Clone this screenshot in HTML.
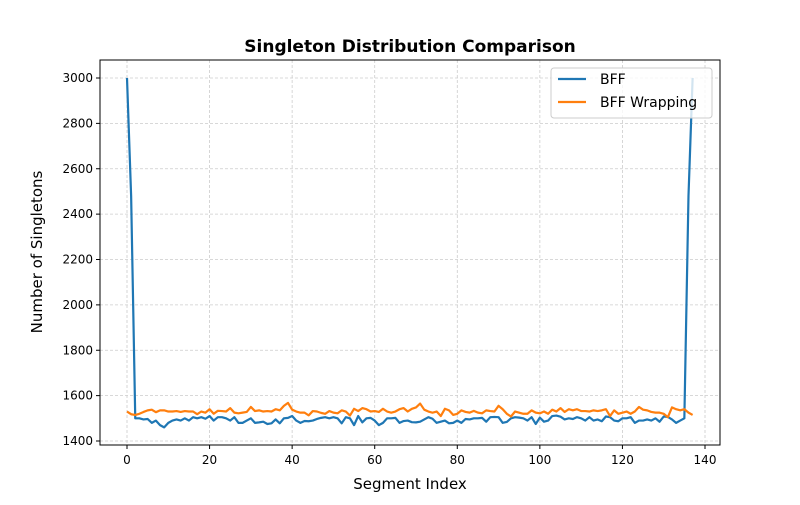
<!DOCTYPE html>
<html><head><meta charset="utf-8"><style>
body{margin:0;background:#fff;font-family:"Liberation Sans","DejaVu Sans",sans-serif}
svg text{font-family:"DejaVu Sans","Liberation Sans",sans-serif}
</style></head><body>
<svg id="c" width="800" height="500"></svg>
<script>
const bff=[3000,2480,1500,1500,1495,1497,1480,1490,1470,1460,1480,1490,1495,1490,1500,1490,1505,1500,1505,1498,1510,1490,1505,1505,1500,1490,1505,1480,1480,1490,1500,1480,1482,1485,1475,1478,1495,1478,1500,1502,1510,1490,1480,1488,1487,1490,1497,1502,1505,1500,1505,1500,1478,1505,1500,1470,1510,1482,1500,1502,1490,1470,1480,1500,1500,1502,1480,1488,1490,1483,1482,1485,1495,1505,1498,1480,1485,1490,1478,1480,1490,1480,1497,1495,1500,1500,1502,1485,1505,1506,1505,1480,1484,1500,1505,1503,1500,1490,1505,1475,1503,1485,1490,1510,1512,1507,1495,1500,1497,1505,1500,1490,1505,1490,1495,1487,1508,1505,1490,1487,1500,1500,1505,1480,1490,1490,1495,1490,1500,1485,1508,1506,1495,1480,1490,1500,2480,3000];
const wrap=[1530,1518,1515,1520,1528,1535,1538,1527,1535,1535,1530,1530,1532,1528,1532,1530,1530,1518,1530,1525,1540,1520,1533,1532,1530,1545,1525,1522,1525,1528,1550,1532,1535,1530,1532,1530,1540,1535,1555,1568,1538,1530,1525,1525,1513,1532,1530,1524,1520,1532,1525,1522,1535,1530,1512,1542,1532,1545,1540,1530,1532,1528,1542,1530,1525,1530,1540,1545,1530,1542,1548,1565,1538,1530,1525,1530,1510,1542,1535,1515,1520,1535,1528,1525,1533,1525,1522,1535,1532,1530,1555,1540,1520,1508,1530,1525,1520,1520,1535,1525,1522,1530,1520,1538,1530,1545,1528,1540,1535,1540,1532,1532,1530,1535,1532,1535,1540,1510,1535,1520,1525,1530,1520,1530,1550,1538,1535,1528,1525,1525,1520,1505,1548,1540,1535,1540,1525,1515];
const xTicks=[0,20,40,60,80,100,120,140];
const yTicks=[1400,1600,1800,2000,2200,2400,2600,2800,3000];
const L=100,R=720,T=60,B=445;
const X=v=>127+(v/140)*(705-127);
const Y=v=>441-(v-1400)/1600*(441-78);
const s=document.getElementById('c'),NS='http://www.w3.org/2000/svg';
function mk(t,a,p){const e=document.createElementNS(NS,t);for(const k in a)e.setAttribute(k,a[k]);(p||s).appendChild(e);return e;}
let e;
xTicks.forEach(v=>{const x=X(v);
e=mk('line',{x1:x,x2:x,y1:T,y2:B,stroke:'#ccc','stroke-width':0.8,'stroke-dasharray':'3,2'});

mk('line',{x1:x,x2:x,y1:B,y2:B+4,stroke:'#000'});
e=mk('text',{x:x,y:B+19,'text-anchor':'middle','font-size':12});e.textContent=v;
});
yTicks.forEach(v=>{const y=Y(v);
e=mk('line',{x1:L,x2:R,y1:y,y2:y,stroke:'#ccc','stroke-width':0.8,'stroke-dasharray':'3,2'});

mk('line',{x1:L-4,x2:L,y1:y,y2:y,stroke:'#000'});
e=mk('text',{x:L-7,y:y+4,'text-anchor':'end','font-size':12});e.textContent=v;
});
function line(d,c,n){e=mk('polyline',{points:d.map((v,i)=>X(i)+','+Y(v)).join(' '),fill:'none',stroke:c,'stroke-width':2.2,'stroke-linejoin':'round'});
}
line(bff,'#1f77b4','bff-line');line(wrap,'#ff7f0e','bff-wrapping-line');
e=mk('rect',{x:L,y:T,width:R-L,height:B-T,fill:'none',stroke:'#000','stroke-width':1});

e=mk('text',{x:410,y:52,'text-anchor':'middle','font-size':17,'font-weight':'bold'});e.textContent='Singleton Distribution Comparison';

e=mk('text',{x:410,y:489,'text-anchor':'middle','font-size':15});e.textContent='Segment Index';

e=mk('text',{x:42,y:252,'text-anchor':'middle','font-size':15,transform:'rotate(-90 42 252)'});e.textContent='Number of Singletons';

const g=mk('g',{});
mk('rect',{x:551,y:68,width:161,height:50,rx:3,fill:'#fff','fill-opacity':0.8,stroke:'#ccc'},g);
[['BFF','#1f77b4',84],['BFF Wrapping','#ff7f0e',107]].forEach(([t,c,y])=>{
mk('line',{x1:558,x2:586,y1:y-5,y2:y-5,stroke:c,'stroke-width':2.2},g);
const tx=mk('text',{x:600,y:y,'font-size':14},g);tx.textContent=t;
});
</script></body></html>
